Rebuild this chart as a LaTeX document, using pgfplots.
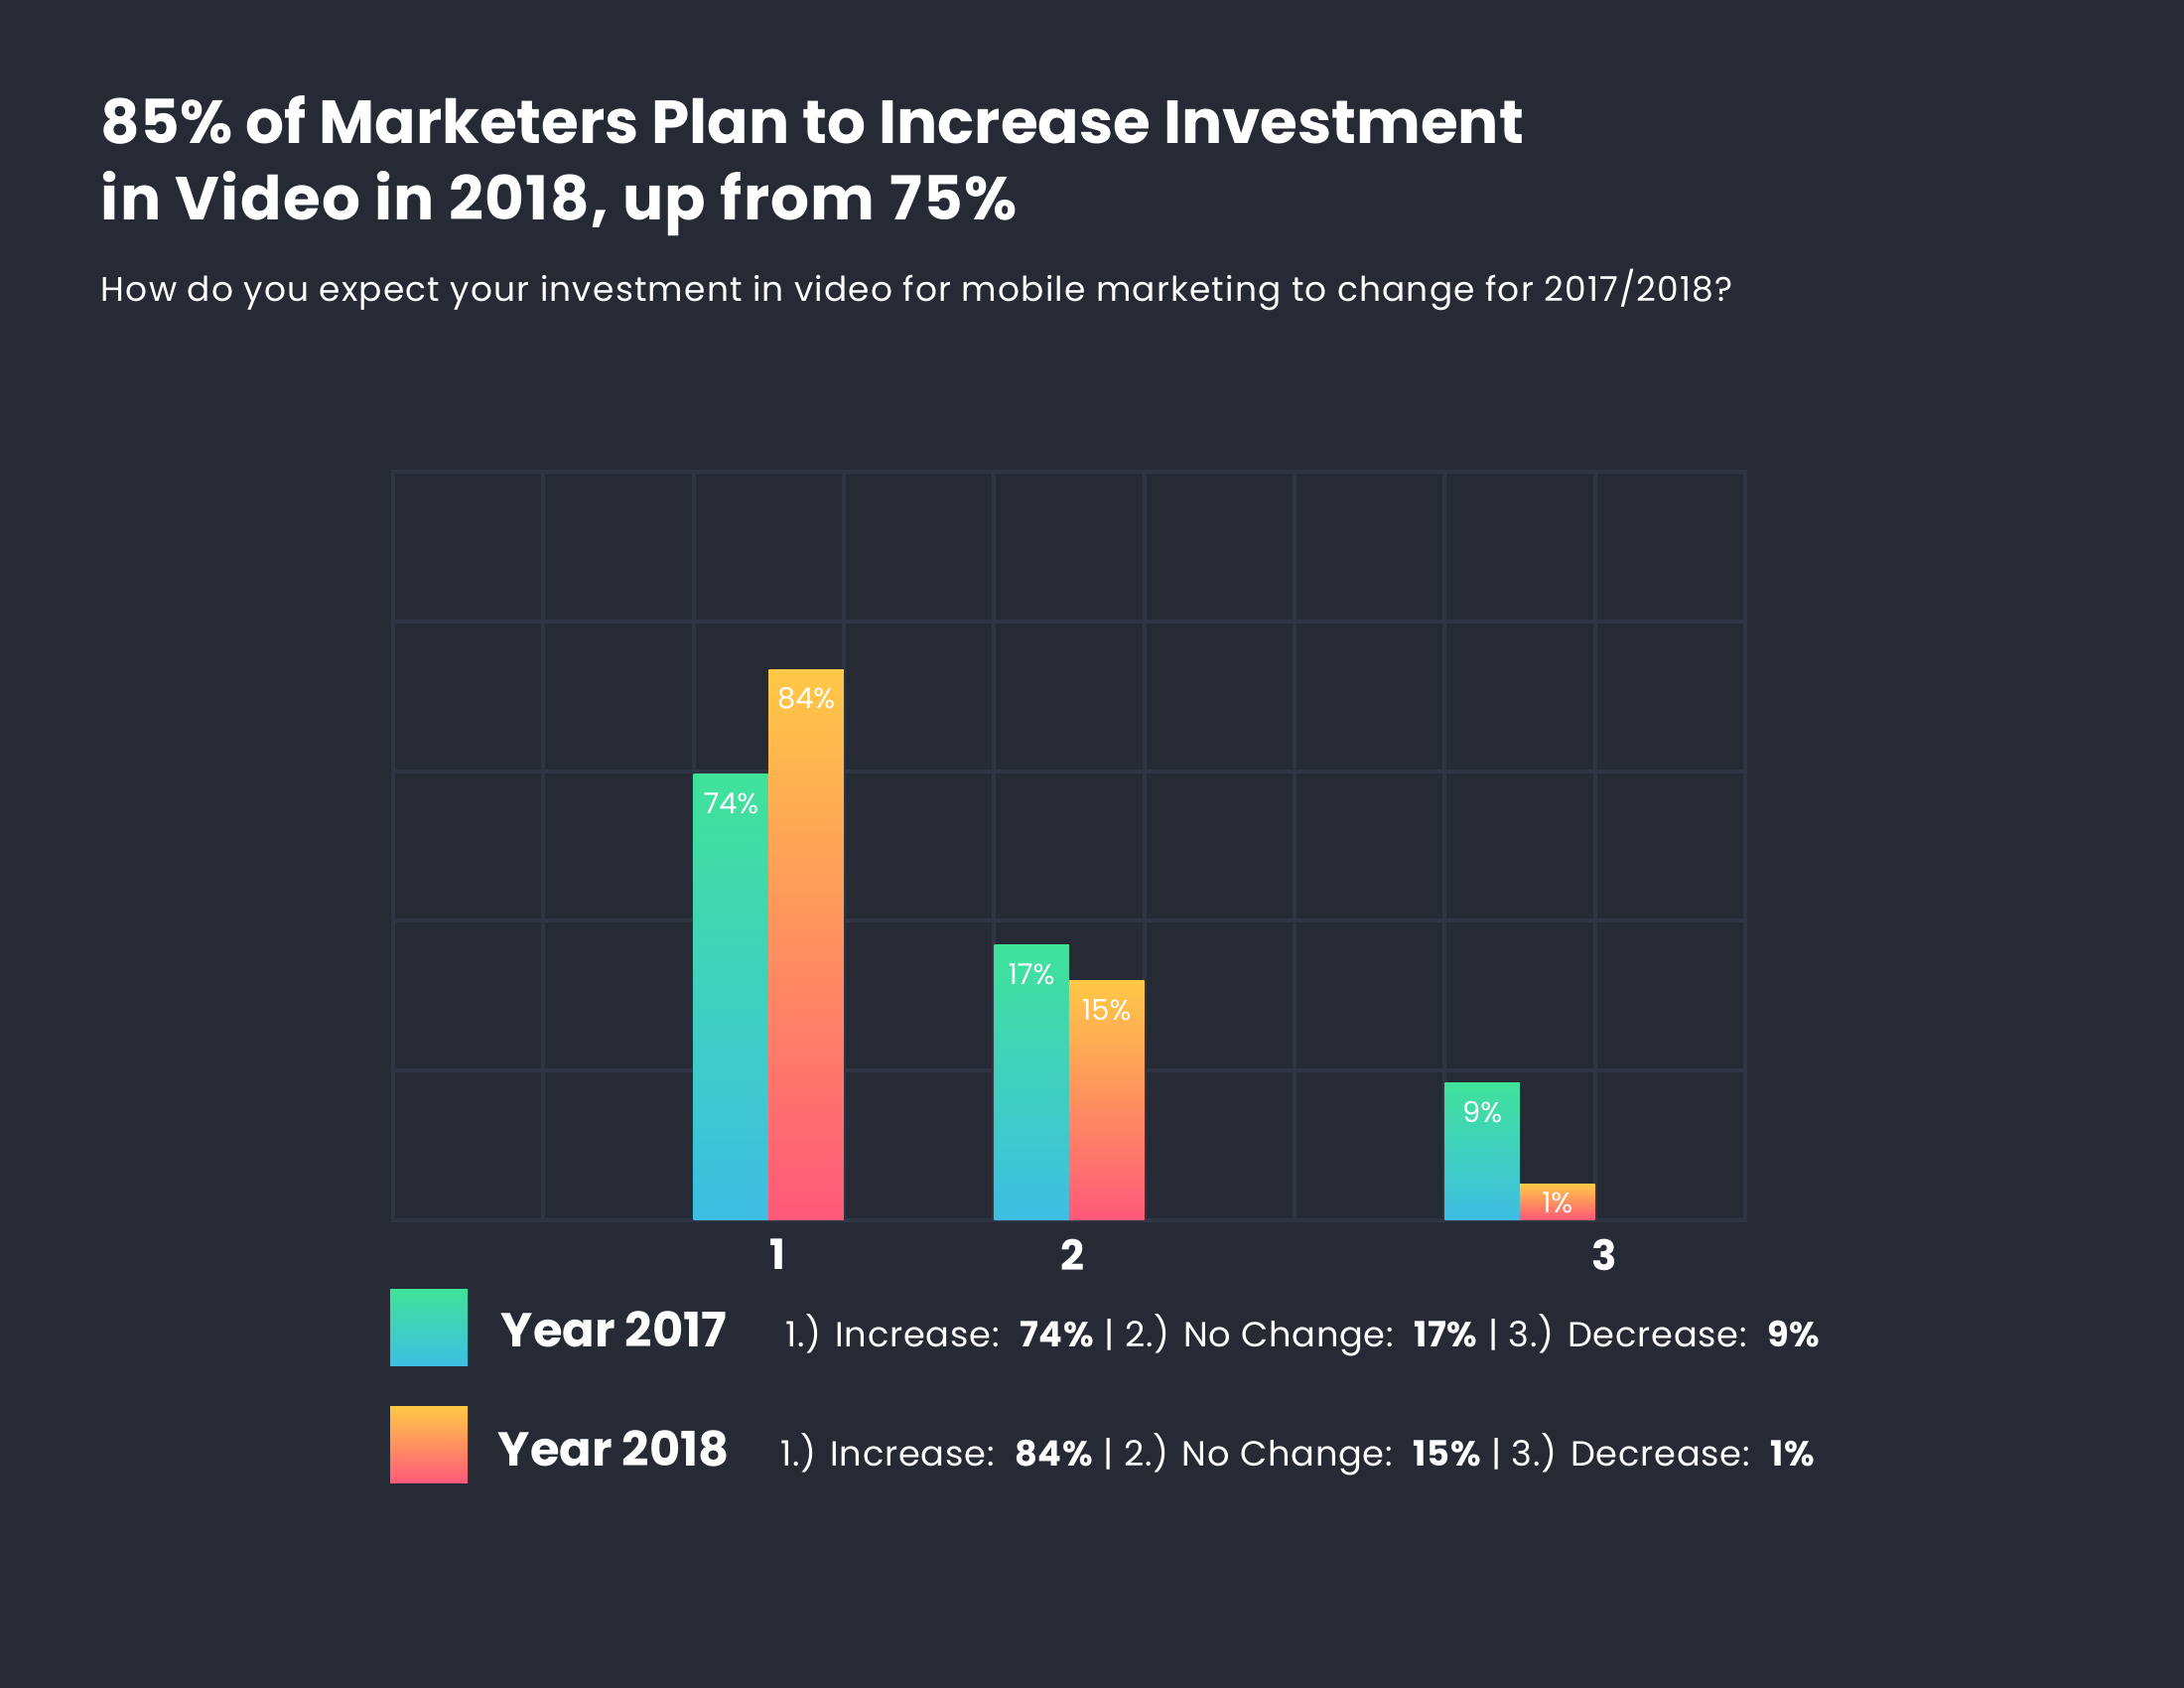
\documentclass[border=0pt]{standalone}
\usepackage{fontspec}
\setmainfont{Poppins}
\newfontfamily\wide[LetterSpace=3.5]{Poppins}
\newfontfamily\widelegend[LetterSpace=2.2]{Poppins}
\newfontfamily\widetitle[LetterSpace=2.2]{Poppins}
\usepackage{pgfplots}
\pgfplotsset{compat=1.18}

\definecolor{bg}{RGB}{37,42,53}
\definecolor{gridc}{RGB}{47,53,66}
\definecolor{gtop}{RGB}{64,226,154}
\definecolor{gbot}{RGB}{62,190,228}
\definecolor{otop}{RGB}{255,200,70}
\definecolor{obot}{RGB}{255,88,122}

\pgfplotsset{
  y17/.style={draw=none, top color=gtop, bottom color=gbot},
  y18/.style={draw=none, top color=otop, bottom color=obot},
}

\begin{document}
\begin{tikzpicture}
\fill[bg] (0,0) rectangle (550pt,425pt);

% title and question
\node[anchor=base west, inner sep=0, text=white, font=\fontsize{15.3}{18}\selectfont\bfseries]
  at (25.25pt,388.75pt) {85\% of Marketers Plan to Increase Investment};
\node[anchor=base west, inner sep=0, text=white, font=\fontsize{15.3}{18}\selectfont\widetitle\bfseries]
  at (25.25pt,369.5pt) {in Video in 2018, up from 75\%};
\node[anchor=base west, inner sep=0, text=white, font=\fontsize{8.6}{10}\selectfont\wide]
  at (25.25pt,349pt) {How do you expect your investment in video for mobile marketing to change for 2017/2018?};

\begin{axis}[
  at={(99pt,117.75pt)}, anchor=south west,
  scale only axis, width=340.5pt, height=188.5pt,
  xmin=0, xmax=9, ymin=0, ymax=5,
  ybar, bar width=0.5, bar shift=0pt,
  ytick={0,1,...,5}, yticklabels={,,,,,},
  xtick={2.56,4.52,8.06}, xticklabels={1,2,3},
  xticklabel style={text=white, font=\fontsize{10.5}{12}\selectfont\bfseries, inner sep=0pt, yshift=-4.5pt},
  minor xtick={0,1,...,9},
  xminorgrids=true, ymajorgrids=true,
  minor grid style={draw=gridc, line width=1pt},
  major grid style={draw=gridc, line width=1pt},
  axis line style={draw=gridc, line width=1pt},
  major tick length=0pt, minor tick length=0pt,
  point meta=explicit symbolic,
  nodes near coords,
  nodes near coords align={below},
  visualization depends on={y \as \rawy},
  every node near coord/.append style={text=white, inner sep=0pt, anchor=north,
    font=\fontsize{7.2}{8}\selectfont, yshift={ifthenelse(\rawy<0.5,-2,-4.5)}},
]
% bar heights in grid rows as drawn, labels as printed; one plot per bar so each is shaded alone
\addplot[y17] coordinates {(2.25,2.98) [74\%]};
\addplot[y18] coordinates {(2.75,3.68) [84\%]};
\addplot[y17] coordinates {(4.25,1.84) [17\%]};
\addplot[y18] coordinates {(4.75,1.60) [15\%]};
\addplot[y17] coordinates {(7.25,0.92) [9\%]};
\addplot[y18] coordinates {(7.75,0.245) [1\%]};
\end{axis}

% legend
\shade[top color=gtop, bottom color=gbot] (98.25pt,81pt) rectangle (117.75pt,100.25pt);
\shade[top color=otop, bottom color=obot] (98.25pt,51.5pt) rectangle (117.75pt,70.75pt);
\node[anchor=base west, inner sep=0, text=white, font=\fontsize{12}{14}\selectfont\bfseries]
  at (126pt,85.75pt) {Year 2017};
\node[anchor=base west, inner sep=0, text=white, font=\fontsize{12}{14}\selectfont\bfseries]
  at (125.25pt,55.75pt) {Year 2018};
\node[anchor=base west, inner sep=0, text=white, font=\fontsize{8.8}{10}\selectfont\widelegend]
  at (197.75pt,85.75pt) {1.) Increase:\ \ \textbf{74\%} | 2.) No Change:\ \ \textbf{17\%} | 3.) Decrease:\ \ \textbf{9\%}};
\node[anchor=base west, inner sep=0, text=white, font=\fontsize{8.8}{10}\selectfont\widelegend]
  at (196.5pt,55.75pt) {1.) Increase:\ \ \textbf{84\%} | 2.) No Change:\ \ \textbf{15\%} | 3.) Decrease:\ \ \textbf{1\%}};
\end{tikzpicture}
\end{document}
